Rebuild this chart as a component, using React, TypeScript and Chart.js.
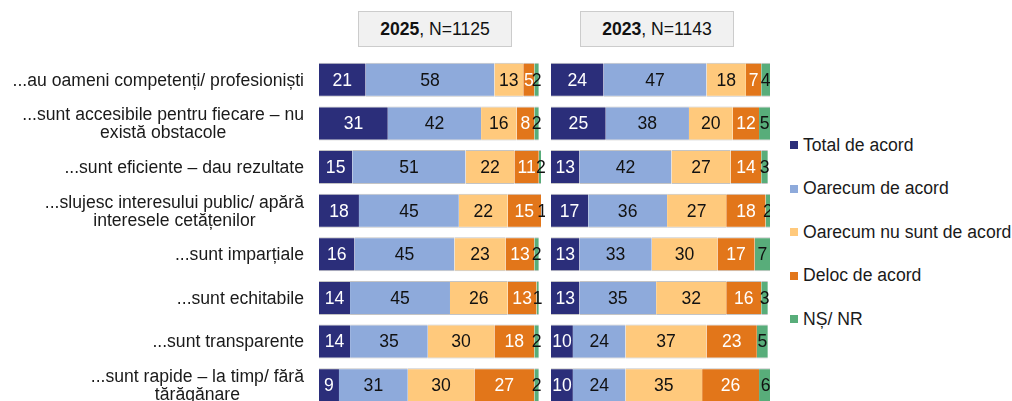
import React, { useEffect, useRef } from "react";
import { Chart, registerables } from "chart.js";

Chart.register(...registerables);

const categories: (string | string[])[] = [
  "...au oameni competenți/ profesioniști",
  ["...sunt accesibile pentru fiecare – nu", "există obstacole"],
  "...sunt eficiente – dau rezultate",
  ["...slujesc interesului public/ apără", "interesele cetățenilor"],
  "...sunt imparțiale",
  "...sunt echitabile",
  "...sunt transparente",
  ["...sunt rapide – la timp/ fără", "tărăgănare"],
];

const seriesNames = [
  "Total de acord",
  "Oarecum de acord",
  "Oarecum nu sunt de acord",
  "Deloc de acord",
  "NȘ/ NR",
];
const seriesColors = ["#2b2e7a", "#8eaadb", "#ffc97c", "#e2761a", "#58ad7a"];
const labelColors = ["#ffffff", "#111111", "#111111", "#ffffff", "#111111"];

// 2025
const total2025 = [21, 31, 15, 18, 16, 14, 14, 9];
const somewhat2025 = [58, 42, 51, 45, 45, 45, 35, 31];
const somewhatNot2025 = [13, 16, 22, 22, 23, 26, 30, 30];
const notAtAll2025 = [5, 8, 11, 15, 13, 13, 18, 27];
const dk2025 = [2, 2, 2, 1, 2, 1, 2, 2];

// 2023
const total2023 = [24, 25, 13, 17, 13, 13, 10, 10];
const somewhat2023 = [47, 38, 42, 36, 33, 35, 24, 24];
const somewhatNot2023 = [18, 20, 27, 27, 30, 32, 37, 35];
const notAtAll2023 = [7, 12, 14, 18, 17, 16, 23, 26];
const dk2023 = [4, 5, 3, 2, 7, 3, 5, 6];

const panelTitles = [
  { year: "2025", rest: ", N=1125" },
  { year: "2023", rest: ", N=1143" },
];

const FONT = "'Liberation Sans', Arial, sans-serif";
const FS = 17.6;

const valueLabels = {
  id: "valueLabels",
  afterDatasetsDraw(chart: any) {
    const ctx = chart.ctx;
    ctx.save();
    ctx.font = `${FS}px ${FONT}`;
    ctx.textAlign = "center";
    ctx.textBaseline = "middle";
    chart.data.datasets.forEach((ds: any, di: number) => {
      const meta = chart.getDatasetMeta(di);
      meta.data.forEach((bar: any, i: number) => {
        const v = ds.data[i];
        if (v == null) return;
        ctx.fillStyle = labelColors[di];
        ctx.fillText(String(v), (bar.x + bar.base) / 2, bar.y + 1);
      });
    });
    ctx.restore();
  },
};

const categoryLabels = {
  id: "categoryLabels",
  afterDraw(chart: any) {
    const ctx = chart.ctx;
    const y = chart.scales.y;
    const right = chart.chartArea.left - 15;
    ctx.save();
    ctx.font = `${FS}px ${FONT}`;
    ctx.fillStyle = "#1a1a1a";
    ctx.textAlign = "center";
    ctx.textBaseline = "middle";
    categories.forEach((lab, i) => {
      const lines = Array.isArray(lab) ? lab : [lab];
      const w = Math.max(...lines.map((l) => ctx.measureText(l).width));
      const cx = right - w / 2;
      const cy = y.getPixelForValue(i);
      const lh = 18;
      lines.forEach((l, k) => {
        ctx.fillText(l, cx, cy + (k - (lines.length - 1) / 2) * lh + 1);
      });
    });
    ctx.restore();
  },
};

function makeConfig(series: number[][], padLeft: number, padRight: number, withLabels: boolean) {
  return {
    type: "bar" as const,
    data: {
      labels: categories.map((c) => (Array.isArray(c) ? c.join(" ") : c)),
      datasets: series.map((d, k) => ({
        label: seriesNames[k],
        data: d,
        backgroundColor: seriesColors[k],
        borderColor: "#c4c4c4",
        borderWidth: { top: 1, bottom: 1, left: 0, right: 0 },
        borderSkipped: false,
        categoryPercentage: 1,
        barPercentage: 0.78,
      })),
    },
    options: {
      indexAxis: "y" as const,
      responsive: false,
      animation: false as const,
      maintainAspectRatio: false,
      layout: { padding: { left: padLeft, right: padRight, top: 58, bottom: 3 } },
      plugins: {
        legend: { display: false },
        tooltip: { enabled: false },
      },
      scales: {
        x: { stacked: true, min: 0, max: 100, display: false },
        y: { stacked: true, display: false },
      },
    },
    plugins: withLabels ? [valueLabels, categoryLabels] : [valueLabels],
  };
}

export default function App() {
  const c1 = useRef<HTMLCanvasElement>(null);
  const c2 = useRef<HTMLCanvasElement>(null);

  useEffect(() => {
    const ch1 = new Chart(
      c1.current!,
      makeConfig([total2025, somewhat2025, somewhatNot2025, notAtAll2025, dk2025], 319, 4, true) as any
    );
    const ch2 = new Chart(
      c2.current!,
      makeConfig([total2023, somewhat2023, somewhatNot2023, notAtAll2023, dk2023], 0, 0, false) as any
    );
    return () => {
      ch1.destroy();
      ch2.destroy();
    };
  }, []);

  const boxStyle = (left: number): React.CSSProperties => ({
    position: "absolute",
    left,
    top: 11,
    width: 154,
    height: 36,
    boxSizing: "border-box",
    background: "#f1f1f1",
    border: "1px solid #cccccc",
    font: `${FS}px ${FONT}`,
    color: "#111",
    display: "flex",
    alignItems: "center",
    justifyContent: "center",
  });

  return (
    <div
      style={{
        position: "fixed",
        left: 0,
        top: 0,
        width: 1012,
        height: 401,
        overflow: "hidden",
        background: "#fff",
      }}
    >
      <canvas ref={c1} width={545} height={410} style={{ position: "absolute", left: 0, top: 0 }} />
      <canvas ref={c2} width={219} height={410} style={{ position: "absolute", left: 551, top: 0 }} />
      {panelTitles.map((t, i) => (
        <div key={t.year} style={boxStyle(i === 0 ? 358 : 580)}>
          <span>
            <b>{t.year}</b>
            {t.rest}
          </span>
        </div>
      ))}
      <div style={{ position: "absolute", left: 790, top: 133 }}>
        {seriesNames.map((n, k) => (
          <div
            key={n}
            style={{
              display: "flex",
              alignItems: "center",
              height: 24,
              marginBottom: 19.6,
              font: `${FS}px ${FONT}`,
              color: "#1a1a1a",
              whiteSpace: "nowrap",
            }}
          >
            <span
              style={{
                display: "inline-block",
                width: 8,
                height: 8,
                background: seriesColors[k],
                marginRight: 5,
              }}
            />
            {n}
          </div>
        ))}
      </div>
    </div>
  );
}
